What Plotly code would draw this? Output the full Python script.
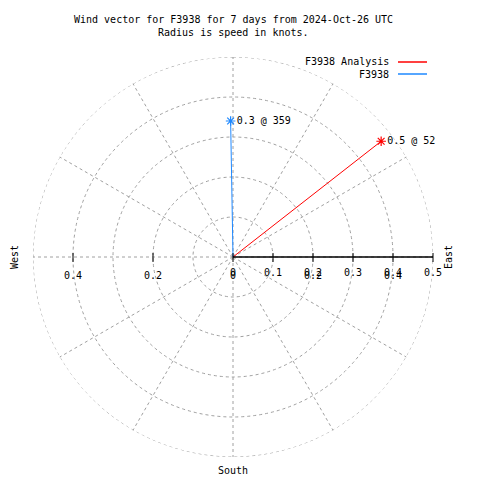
import plotly.graph_objects as go

names = ["F3938 Analysis", "F3938"]
speeds = [0.47, 0.34]
directions = [52, 359]
colors = ["#ff0000", "#1e88ff"]
r_ticks = [0, 0.1, 0.2, 0.3, 0.4, 0.5]
x_ticks = [-0.4, -0.2, 0, 0.2, 0.4]

FONT = "DejaVu Sans Mono"
FS = 10
W = H = 480
cx, cy, R = 233, 257, 200

fig = go.Figure()
for n, s, d, c in zip(names, speeds, directions, colors):
    fig.add_trace(go.Scatterpolar(
        r=[0, s], theta=[d, d], mode="lines", line=dict(color=c, width=1),
        showlegend=False, hoverinfo="skip"))
    fig.add_trace(go.Scatterpolar(
        r=[s], theta=[d], mode="markers+text",
        marker=dict(symbol="asterisk-open", size=8, color=c, line=dict(color=c, width=1.2)),
        text=[f"{s:.1f} @ {d}"], textposition="middle right",
        textfont=dict(family=FONT, size=FS, color="black"),
        showlegend=False, hoverinfo="skip"))

# outer dashed circle
fig.add_trace(go.Scatterpolar(
    r=[r_ticks[-1]] * 361, theta=list(range(361)), mode="lines",
    line=dict(color="#a0a0a0", width=1, dash="3px,3px"), showlegend=False, hoverinfo="skip"))

fig.update_layout(
    width=W, height=H, margin=dict(l=0, r=0, t=0, b=0),
    paper_bgcolor="white", plot_bgcolor="white",
    font=dict(family=FONT, size=FS, color="black"),
    polar=dict(
        domain=dict(x=[(cx - R) / W, (cx + R) / W], y=[1 - (cy + R) / H, 1 - (cy - R) / H]),
        bgcolor="white",
        radialaxis=dict(range=[0, 0.5], tickvals=r_ticks, showticklabels=False,
                        angle=0, showline=True, linecolor="black", linewidth=1.5,
                        ticks="", gridcolor="#a0a0a0", griddash="3px,3px", gridwidth=1),
        angularaxis=dict(rotation=90, direction="clockwise", dtick=30, showticklabels=False,
                         ticks="", showline=False, gridcolor="#a0a0a0", griddash="3px,3px", gridwidth=1),
    ),
)

ann = [
    dict(x=233 / W, y=1 - 20 / H, text="Wind vector for F3938 for 7 days from 2024-Oct-26 UTC"),
    dict(x=233 / W, y=1 - 33 / H, text="Radius is speed in knots."),
    dict(x=233 / W, y=1 - 470 / H, text="South"),
]
for a in ann:
    fig.add_annotation(xref="paper", yref="paper", showarrow=False, xanchor="center",
                       yanchor="middle", font=dict(family=FONT, size=FS), **a)
fig.add_annotation(xref="paper", yref="paper", x=448 / W, y=1 - 257 / H, text="East",
                   textangle=-90, showarrow=False, xanchor="center", yanchor="middle",
                   font=dict(family=FONT, size=FS))
fig.add_annotation(xref="paper", yref="paper", x=14 / W, y=1 - 257 / H, text="West",
                   textangle=-90, showarrow=False, xanchor="center", yanchor="middle",
                   font=dict(family=FONT, size=FS))
# radial tick labels and marks
for v in r_ticks:
    px = cx + v / 0.5 * R
    fig.add_annotation(xref="paper", yref="paper", x=px / W, y=1 - 272 / H, text=str(v),
                       showarrow=False, xanchor="center", yanchor="middle",
                       font=dict(family=FONT, size=FS))
# cartesian x-axis tics (shown as absolute values), as gnuplot draws them
for v in sorted(set(x_ticks) | set(r_ticks)):
    px = cx + v / 0.5 * R
    fig.add_shape(type="line", xref="paper", yref="paper", x0=px / W, x1=px / W,
                  y0=1 - 253 / H, y1=1 - 262 / H, line=dict(color="black", width=1))
for v in x_ticks:
    px = cx + v / 0.5 * R
    fig.add_annotation(xref="paper", yref="paper", x=px / W, y=1 - 275.5 / H, text=str(abs(v)),
                       showarrow=False, xanchor="center", yanchor="middle",
                       font=dict(family=FONT, size=FS))
# legend
for i, (n, c) in enumerate(zip(names, colors)):
    y = 62 + 12 * i
    fig.add_annotation(xref="paper", yref="paper", x=391 / W, y=1 - y / H, text=n,
                       xanchor="right", yanchor="middle", showarrow=False,
                       font=dict(family=FONT, size=FS))
    fig.add_shape(type="line", xref="paper", yref="paper", x0=398 / W, x1=427 / W,
                  y0=1 - y / H, y1=1 - y / H, line=dict(color=c, width=1.5))

fig.write_html("out.html", config={"displayModeBar": False, "staticPlot": True},
               post_script="document.body.style.margin='0';document.body.style.overflow='hidden';")
